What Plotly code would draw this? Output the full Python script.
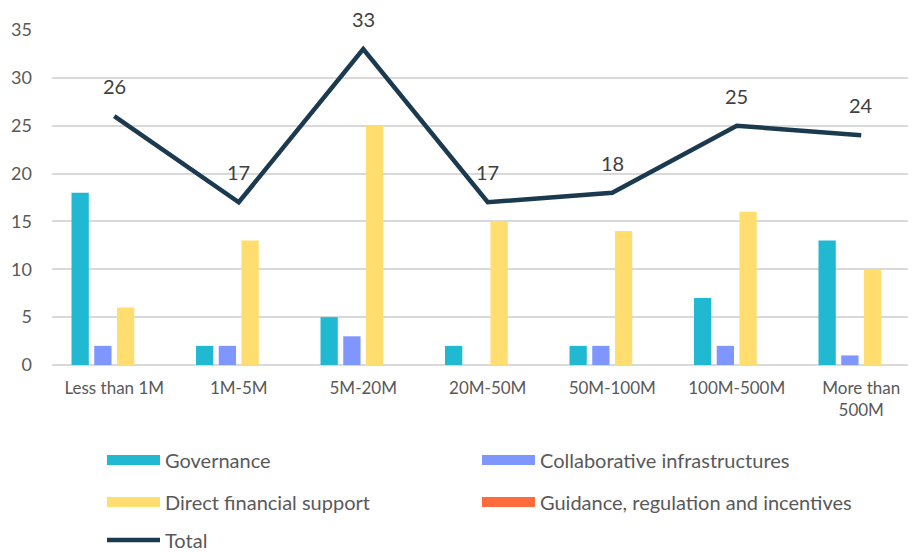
import plotly.graph_objects as go

categories = ["Less than 1M", "1M-5M", "5M-20M", "20M-50M", "50M-100M", "100M-500M", "More than<br>500M"]
governance = [18, 2, 5, 2, 2, 7, 13]
collaborative = [2, 2, 3, 0, 2, 2, 1]
direct_support = [6, 13, 25, 15, 14, 16, 10]
guidance = [0, 0, 0, 0, 0, 0, 0]
total = [26, 17, 33, 17, 18, 25, 24]

series_names = ["Governance", "Collaborative infrastructures", "Direct financial support",
                "Guidance, regulation and incentives"]
series_values = [governance, collaborative, direct_support, guidance]
colors = ["#20B9D1", "#7F96FE", "#FFDD6E", "#FF6B3B"]
legend_ids = ["legend", "legend", "legend2", "legend2"]
line_color = "#1B3A50"
FONT = "Lato"

# page body has an 8px default margin -> figure is drawn at offset (8, 8)
W, H, OFF = 908, 544, 8

xs = list(range(len(categories)))
fig = go.Figure()

for name, vals, col in zip(series_names, series_values, colors):
    fig.add_trace(go.Bar(x=xs, y=vals, name=name, marker=dict(color=col, line=dict(width=0)),
                         showlegend=False, hoverinfo="skip"))

fig.add_trace(go.Scatter(x=xs, y=total, mode="lines", name="Total",
                         line=dict(color=line_color, width=4.5), showlegend=False))

# data labels for the Total line
for xi, v in zip(xs, total):
    fig.add_annotation(x=xi, y=v, text=str(v), showarrow=False, yshift=30, yanchor="middle",
                       font=dict(family=FONT, size=20, color="#404040"))

# legend entries (rectangular swatches)
for name, col, lg in zip(series_names, colors, legend_ids):
    fig.add_trace(go.Scatter(x=[None], y=[None], mode="lines", name=name,
                             line=dict(color=col, width=11), legend=lg))
fig.add_trace(go.Scatter(x=[None], y=[None], mode="lines", name="Total",
                         line=dict(color=line_color, width=4.5), legend="legend3"))

leg_x = (102 - OFF) / W
leg_common = dict(orientation="h", xref="container", yref="container", x=leg_x, xanchor="left",
                  yanchor="middle", itemwidth=53, entrywidth=307, bgcolor="rgba(0,0,0,0)",
                  font=dict(family=FONT, size=20, color="#595959"), itemclick=False)

fig.update_layout(
    width=W, height=H,
    margin=dict(l=44, r=0, t=22, b=187),
    paper_bgcolor="white", plot_bgcolor="white",
    barmode="group", bargap=0.27, bargroupgap=0.24,
    font=dict(family=FONT, color="#595959"),
    legend=dict(**leg_common, y=1 - (460 - OFF) / H),
    legend2=dict(**leg_common, y=1 - (502 - OFF) / H),
    legend3=dict(**leg_common, y=1 - (540 - OFF) / H),
    xaxis=dict(tickmode="array", tickvals=xs, ticktext=categories, range=[-0.5, 6.44],
               showgrid=False, zeroline=False, showline=False,
               tickfont=dict(family=FONT, size=17, color="#595959"), ticklabelstandoff=11),
    yaxis=dict(range=[0, 35], dtick=5, showgrid=True, gridcolor="#D9D9D9", gridwidth=1.5,
               zeroline=True, zerolinecolor="#D9D9D9", zerolinewidth=1.5, showline=False,
               tickfont=dict(family=FONT, size=18, color="#595959"), ticklabelstandoff=19),
)

fig.write_html("out.html")
